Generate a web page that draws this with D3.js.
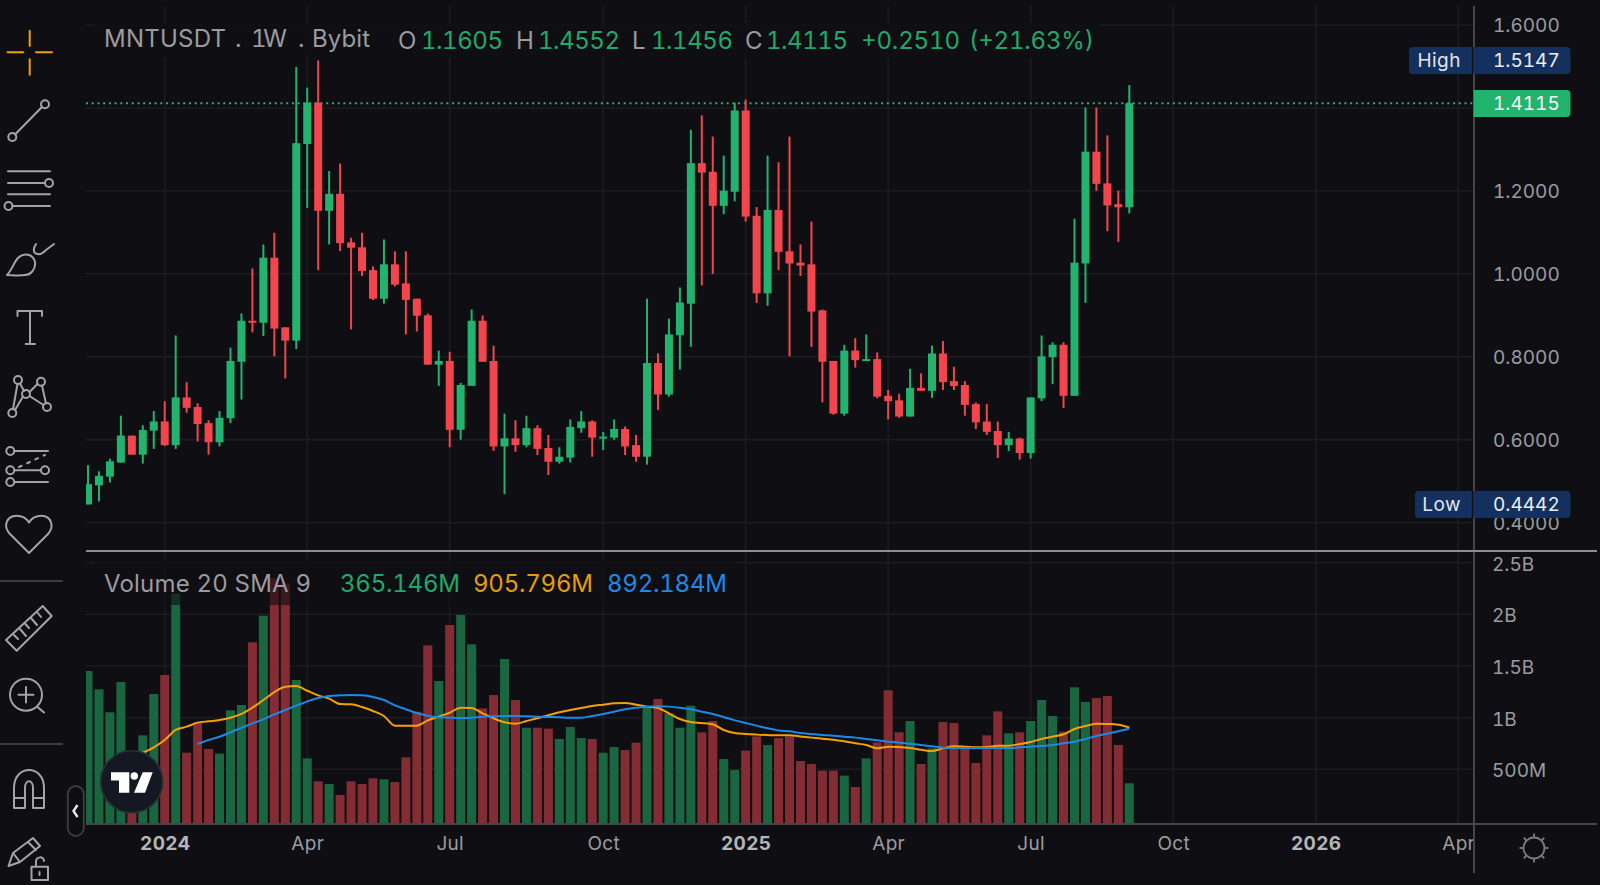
<!DOCTYPE html>
<html><head><meta charset="utf-8">
<script src="https://cdn.jsdelivr.net/npm/d3@7/dist/d3.min.js"></script>
<style>
html,body{margin:0;padding:0;background:#0f0f13;overflow:hidden}
svg{display:block;font-family:Inter,"Noto Sans",sans-serif;font-variant-numeric:tabular-nums}
.icon{fill:none;stroke:#a3a4a8;stroke-width:2;stroke-linecap:round;stroke-linejoin:round}
</style></head><body>
<svg id="c" width="1600" height="885"></svg>
<script>
const opens=[.444,.490,.511,.545,.610,.564,.622,.644,.587,.702,.679,.640,.594,.652,.788,.887,.882,1.039,.871,.839,1.313,1.4125,1.152,1.193,1.076,1.064,1.009,.940,1.023,.977,.940,.900,.781,.790,.624,.730,.887,.790,.584,.6035,.587,.628,.580,.547,.557,.628,.644,.605,.605,.626,.587,.559,.785,.709,.852,.928,1.267,1.246,1.164,1.198,1.394,1.140,.953,1.154,1.0545,1.027,1.023,.912,.790,.663,.815,.792,.7945,.706,.695,.656,.725,.718,.808,.7415,.732,.686,.644,.621,.587,.603,.568,.700,.799,.829,.706,1.025,1.2945,1.218,1.168,1.1605];
const highs=[.5385,.524,.5545,.658,.610,.635,.669,.693,.8515,.739,.688,.647,.669,.822,.9045,1.013,1.071,1.099,.871,1.499,1.449,1.5147,1.248,1.266,1.087,1.099,1.018,1.083,1.0545,1.0545,.940,.9045,.815,.812,.737,.914,.8996,.827,.663,.647,.658,.635,.6115,.582,.649,.669,.647,.619,.649,.632,.6115,.940,.808,.892,.967,1.3475,1.382,1.331,1.285,1.4125,1.420,1.161,1.285,1.269,1.331,1.071,1.126,.914,.790,.829,.845,.854,.8105,.720,.711,.771,.760,.827,.838,.776,.7415,.690,.686,.644,.619,.605,.702,.8515,.835,.835,1.133,1.401,1.401,1.334,1.2006,1.4552];
const lows=[.4442,.451,.497,.545,.564,.5425,.578,.585,.578,.665,.596,.564,.584,.640,.697,.859,.850,.801,.748,.819,1.159,1.009,1.071,1.055,.866,.995,.937,.928,.9695,.854,.861,.781,.730,.582,.600,.730,.788,.573,.469,.571,.582,.563,.515,.5425,.545,.617,.559,.575,.600,.563,.547,.540,.672,.704,.769,.824,.972,1.000,1.144,1.175,1.126,.930,.923,1.009,.801,.995,.824,.690,.6605,.658,.774,.790,.700,.649,.653,.656,.718,.701,.720,.720,.658,.626,.6115,.556,.573,.552,.5545,.693,.734,.6765,.706,.930,1.200,1.103,1.077,1.1456];
const closes=[.493,.513,.548,.610,.564,.6235,.644,.587,.702,.677,.638,.594,.653,.790,.887,.882,1.039,.868,.839,1.315,1.4125,1.152,1.193,1.074,1.063,1.007,.940,1.023,.974,.937,.899,.781,.790,.624,.732,.887,.788,.584,.6035,.587,.628,.578,.547,.559,.631,.644,.605,.6075,.626,.584,.559,.785,.709,.854,.931,1.267,1.244,1.164,1.2006,1.394,1.138,.953,1.154,1.053,1.025,1.020,.909,.788,.663,.815,.792,.7945,.704,.693,.656,.725,.718,.808,.739,.7295,.684,.642,.619,.587,.603,.568,.702,.801,.829,.706,1.027,1.2945,1.217,1.165,1.1605,1.4115];
const volumes=[1452,1274,1052,1345,590,829,1229,1413,2200,661,952,697,652,1071,1123,1729,1987,2348,2300,1365,606,384,358,252,384,358,413,403,377,616,1058,1700,1355,1897,1994,1710,1090,1219,1568,1171,903,903,894,794,910,803,794,661,716,687,758,1107,1181,1042,903,1116,858,968,600,494,681,819,736,803,819,581,552,487,487,439,329,606,761,1265,858,968,552,703,958,948,726,561,829,1061,848,858,968,1171,1016,865,1294,1152,1190,1210,736,365];
const smaOrange=[null,null,null,null,null,661,713,784,881,913,952,965,977,1000,1036,1097,1171,1248,1300,1307,1261,1216,1184,1132,1129,1103,1065,1016,923,923,923,974,1010,1048,1097,1094,1042,994,955,942,968,994,1023,1052,1074,1094,1113,1126,1139,1142,1126,1107,1094,1042,987,958,948,936,881,852,842,836,832,829,829,819,807,797,787,771,752,736,703,719,716,706,690,677,703,723,719,713,716,729,729,745,765,794,816,839,890,919,942,939,932,906];
const smaBlue=[null,null,null,null,null,null,null,null,null,null,745,784,816,858,903,945,984,1032,1074,1116,1158,1190,1210,1216,1219,1216,1200,1171,1119,1081,1045,1019,1003,1000,997,1000,1010,1013,1016,1016,1013,1010,1007,1003,1000,1000,1016,1036,1058,1081,1097,1107,1110,1107,1097,1081,1058,1036,1007,974,948,923,897,877,868,852,842,832,826,816,807,794,781,768,758,748,736,723,710,706,706,706,706,706,706,713,719,726,736,752,768,794,823,845,868,892];
const priceTicks=[1.6,1.4,1.2,1.0,.8,.6,.4];
const priceLabelTicks=[1.6,1.2,1.0,.8,.6,.4];
const volumeTicks=[2500,2000,1500,1000,500];
const timeTicks=["2024-01-01","2024-04-01","2024-07-01","2024-10-07","2025-01-06","2025-04-07","2025-07-07","2025-10-06","2026-01-05","2026-04-06"];
const timeLabels=["2024","Apr","Jul","Oct","2025","Apr","Jul","Oct","2026","Apr"];
const titleParts=[["MNTUSDT","#9a9ba0",104,122],[".","#9a9ba0",235,0],["1W","#9a9ba0",251,36],[".","#9a9ba0",298,0],["Bybit","#9a9ba0",312,58]];
const legendParts=[["O","#9a9ba0",398,18],["1.1605","#22a86a",421,82],["H","#9a9ba0",516,17],["1.4552","#22a86a",538,82],["L","#9a9ba0",632,13],["1.1456","#22a86a",651,82],["C","#9a9ba0",745,17],["1.4115","#22a86a",766,82],["+0.2510","#22a86a",861,99],["(+21.63%)","#22a86a",969,125]];
const volumeLegend=[["Volume 20 SMA 9","#9a9ba0",104,207],["365.146M","#22a86a",340,120],["905.796M","#e59c10",473,120],["892.184M","#2089e6",607,120]];

const GREEN="#23b36e",RED="#f2454e",VG="#1a6641",VR="#842c33",BG="#0f0f13",GRID="#1d1d21",AXIS="#46464a";
const L=86,R=1474,T=6,B=824;
const svg=d3.select("#c");
const parse=d3.utcParse("%Y-%m-%d");
const weeks=d3.utcMonday.range(parse("2023-11-13"),parse("2025-09-09"));
const tickDates=timeTicks.map(parse);
const x=d3.scaleUtc().domain([weeks[0],weeks[95]]).range([88,1129.3]);
const y=d3.scaleLinear().domain([.4,1.6]).range([522.7,25]);
const yv=d3.scaleLinear().domain([0,2500]).range([821,562.7]);
const VB=823.3;

svg.append("rect").attr("width",1600).attr("height",885).attr("fill",BG);
svg.append("defs").append("clipPath").attr("id","plot").append("rect").attr("x",L).attr("y",T).attr("width",R-L).attr("height",B-T);

// grid
const grid=svg.append("g").attr("stroke",GRID).attr("stroke-width",1.5);
grid.selectAll(".v").data(tickDates).join("line").attr("x1",d=>x(d)).attr("x2",d=>x(d)).attr("y1",T).attr("y2",B);
grid.selectAll(".p").data(priceTicks).join("line").attr("x1",L).attr("x2",R).attr("y1",d=>y(d)).attr("y2",d=>y(d));
grid.selectAll(".q").data(volumeTicks).join("line").attr("x1",L).attr("x2",R).attr("y1",d=>yv(d)).attr("y2",d=>yv(d));

// last price line
svg.append("line").attr("x1",L).attr("x2",R).attr("y1",y(1.4115)).attr("y2",y(1.4115)).attr("stroke",GREEN).attr("stroke-width",2).attr("stroke-dasharray","2 3.72");

const plot=svg.append("g").attr("clip-path","url(#plot)");
// volume
plot.selectAll(".vol").data(volumes).join("rect").attr("x",(d,i)=>x(weeks[i])-4.5).attr("width",9).attr("y",d=>yv(d)).attr("height",d=>VB-yv(d)).attr("fill",(d,i)=>closes[i]>=opens[i]?VG:VR);
// legend panels
svg.append("rect").attr("x",94).attr("y",23).attr("width",1006).attr("height",35).attr("fill",BG).attr("opacity",.92);
svg.append("rect").attr("x",94).attr("y",560).attr("width",642).attr("height",45).attr("fill",BG).attr("opacity",.62);
// sma lines
const lineFn=d3.line().defined(d=>d!=null).x((d,i)=>x(weeks[i])).y(d=>yv(d)).curve(d3.curveMonotoneX);
plot.append("path").attr("d",lineFn(smaOrange)).attr("fill","none").attr("stroke","#f5a00a").attr("stroke-width",2);
plot.append("path").attr("d",lineFn(smaBlue)).attr("fill","none").attr("stroke","#1e88e5").attr("stroke-width",2);
// candles
const col=i=>closes[i]>=opens[i]?GREEN:RED;
plot.selectAll(".w").data(weeks).join("line").attr("x1",d=>x(d)).attr("x2",d=>x(d)).attr("y1",(d,i)=>y(highs[i])).attr("y2",(d,i)=>y(lows[i])).attr("stroke",(d,i)=>col(i)).attr("stroke-width",2);
plot.selectAll(".b").data(weeks).join("rect").attr("x",d=>x(d)-4).attr("width",8)
 .attr("y",(d,i)=>y(Math.max(opens[i],closes[i]))).attr("height",(d,i)=>Math.max(2,Math.abs(y(opens[i])-y(closes[i])))).attr("fill",(d,i)=>col(i));

// axes
const styleAxis=(g,size)=>{g.select(".domain").remove();g.selectAll(".tick line").remove();g.selectAll("text").attr("fill","#9a9b9f").attr("font-size",size).attr("font-family","Inter");};
svg.append("g").attr("transform",`translate(${R},0.6)`).call(d3.axisRight(y).tickValues(priceLabelTicks).tickFormat(d3.format(".4f")).tickSize(0).tickPadding(19)).call(g=>styleAxis(g,19));
const fmtV=d=>d>=1000?(d/1000)+"B":d+"M";
svg.append("g").attr("transform",`translate(${R},1.4)`).call(d3.axisRight(yv).tickValues(volumeTicks).tickFormat(fmtV).tickSize(0).tickPadding(18)).call(g=>styleAxis(g,19));
svg.append("g").attr("transform",`translate(0,${B})`).call(d3.axisBottom(x).tickValues(tickDates).tickFormat((d,i)=>timeLabels[i]).tickSize(0).tickPadding(13)).call(g=>{styleAxis(g,19);g.selectAll("text").attr("font-weight",(d,i)=>/^20/.test(timeLabels[i])?700:400).attr("fill",(d,i)=>/^20/.test(timeLabels[i])?"#b4b5b9":"#9a9b9f").attr("letter-spacing",.3);});

// frame lines
svg.append("line").attr("x1",R).attr("x2",R).attr("y1",T).attr("y2",873).attr("stroke",AXIS).attr("stroke-width",2);
svg.append("line").attr("x1",L).attr("x2",1597).attr("y1",551).attr("y2",551).attr("stroke","#8e8e92").attr("stroke-width",2);
svg.append("line").attr("x1",L).attr("x2",1597).attr("y1",B).attr("y2",B).attr("stroke",AXIS).attr("stroke-width",2);

// legends
const txt=(s,xx,yy,f,size,w)=>svg.append("text").attr("x",xx).attr("y",yy).attr("fill",f).attr("font-size",size).attr("font-weight",w||400).text(s);
const fit=(part,yy)=>{const e=txt(part[0],part[2],yy,part[1],24);if(part[3])e.attr("textLength",part[3]).attr("lengthAdjust","spacing");};
titleParts.forEach(q=>fit(q,46.5));
legendParts.forEach(q=>fit(q,48.5));
volumeLegend.forEach(q=>fit(q,592));

// price tags
const tag=(x0,y0,h,lab,val)=>{
 svg.append("rect").attr("x",x0).attr("y",y0).attr("width",1570.5-x0).attr("height",h).attr("rx",4).attr("fill","#14305f");
 svg.append("line").attr("x1",1472.5).attr("x2",1472.5).attr("y1",y0).attr("y2",y0+h).attr("stroke",BG).attr("stroke-width",1.2);
 txt(lab,1461,y0+20,"#e4e5e8",19).attr("text-anchor","end").attr("letter-spacing",.5);
 txt(val,1493,y0+20,"#eceded",19);
};
tag(1409,47,27,"High","1.5147");
tag(1415,491,27,"Low","0.4442");
svg.append("path").attr("d","M1473.5 90H1566.5a4 4 0 0 1 4 4V113a4 4 0 0 1 -4 4H1473.5Z").attr("fill","#22b36d");
txt("1.4115",1493,110,"#f3f6f4",19);

// sun
const sun=svg.append("g").attr("transform","translate(1534,848)").attr("fill","none").attr("stroke","#7a7b80").attr("stroke-width",1.8);
sun.append("circle").attr("r",10.5);
d3.range(8).forEach(k=>{const a=k*Math.PI/4;sun.append("line").attr("x1",10.5*Math.cos(a)).attr("y1",10.5*Math.sin(a)).attr("x2",14.5*Math.cos(a)).attr("y2",14.5*Math.sin(a));});

// toolbar
const tb=svg.append("g").attr("class","icon");
const p=(d,c)=>{const e=tb.append("path").attr("d",d);if(c)e.attr("stroke",c);return e;};
const ci=(cx,cy,r)=>tb.append("circle").attr("cx",cx).attr("cy",cy).attr("r",r);
p("M29.7 30.7V46M29.7 59.3V74.7M7.5 52.3H23.3M36 52.3H52","#f0a010");
p("M15 134.5L42 107");ci(45,104.3,4);ci(12.3,137,4);
p("M8 171.3H50M8 183H45M8 194.3H50M12.5 206H50");ci(49,183,4);ci(8.5,206,4);
p("M7 275C12 270 14 262 18 258C24 252 33 254 35 262C36 270 30 275 25 275C18 276 12 275 7 275ZM36 244C32 250 34 254 38 254C41 255 44 252 46 250L54 244");
p("M17.5 316V311H42V316M30 311V344M25.7 344H35");
[[18,380],[41,381.7],[26,394],[12.3,413],[47,407]].forEach(c=>ci(c[0],c[1],4));
p("M13 409L17.5 384M20 383.5L24 391M29.5 392L37.5 384M42 385.5L46 403.5M29.5 396L43.5 405M23 396.5L15 410");
ci(10.3,451,4);ci(10.3,470.3,4);ci(45,470.3,4);ci(10.3,482,4);
p("M14.5 451H48M14.5 470.3H41M14.5 482H48");
p("M19 467L45 455").attr("stroke-dasharray","3 6");
p("M29 553L9.5 533.5C3 526 6.5 516 16.5 515.8C22 515.8 26.5 518.5 29 522.5C31.5 518.5 36 515.8 41.5 515.8C51 516 54.5 526 48.5 533.5Z");
svg.append("path").attr("d","M0 581H63M0 744H63").attr("stroke","#3b3b40").attr("stroke-width",2);
p("M42.7 606L51.7 616L16.7 650.7L6 640ZM37 612L41 617M31 618L37 625M25 623.5L29 628M20 629L26 636M14 635L18 639");
ci(26,694.7,16);p("M18.5 694.7H33.5M26 687V702.5M37.5 707L44 712.5");
p("M14 808V788C14 764 44 764 44 788V808H33V788C33 779 25 779 25 788V808ZM14 798H25M33 798H44");
p("M8.5 866L13 853L33 838L40 846L20 862L8.5 866ZM13 853L20 862M28 842L36 850");
p("M31.5 866.7H48V880H31.5ZM36 866.7V862C36 856 44 856 44 861M39.5 872V875");
svg.append("rect").attr("x",67.8).attr("y",786).attr("width",16).attr("height",50).attr("rx",8).attr("fill",BG).attr("stroke","#3b3b40").attr("stroke-width",2);
svg.append("path").attr("d","M77.5 805L73.5 811L77.5 817").attr("fill","none").attr("stroke","#e8e8e8").attr("stroke-width",2.4);

// logo
const lg=svg.append("g");
lg.append("circle").attr("cx",131.7).attr("cy",781.7).attr("r",31).attr("fill","#141823").attr("stroke","#26332f").attr("stroke-width",1.5);
lg.append("path").attr("d","M111 772.3H129.3V792.7H119V780.5H111ZM142.7 772.3H152.7L145 792.7H134Z").attr("fill","#fff");
lg.append("circle").attr("cx",134.3).attr("cy",776).attr("r",3.7).attr("fill","#fff");
</script>
</body></html>
